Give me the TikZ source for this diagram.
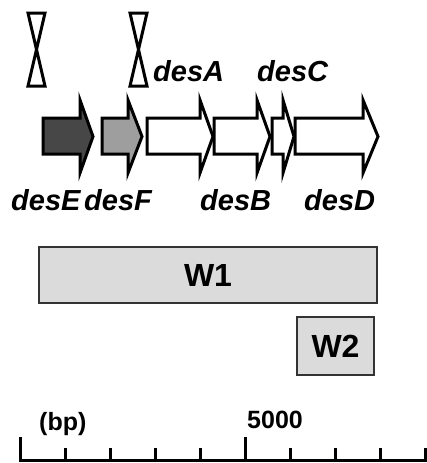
\documentclass[tikz,border=0pt]{standalone}
\usepackage{fontspec}
\setmainfont{Liberation Sans}
\newcommand\genearrow[5]{\draw[gene,fill=#4] (#1,118) -- (#2,118) -- (#2,100) -- (#3,136.5) -- (#2,173) -- (#2,154) -- (#1,154) -- cycle; \coordinate (#5) at (#1,136.5);}
\newcommand\insmark[2]{\draw[ins] (#1-8.5,13) -- (#1+8.5,13) -- (#1,49.5) -- (#1+8.5,86) -- (#1-8.5,86) -- (#1,49.5) -- cycle; \coordinate (#2) at (#1,49.5);}
\begin{document}
\begin{tikzpicture}[x=1pt,y=-1pt,line join=miter,
  gene/.style={draw=black,line width=3pt},
  ins/.style={draw=black,line width=3pt,fill=white},
  glabel/.style={font=\fontsize{29}{31}\selectfont\bfseries\itshape,anchor=base west,inner sep=0pt},
  wbox/.style={draw=black!80,line width=1.5pt,fill=black!14,font=\fontsize{32}{34}\selectfont\bfseries,inner sep=0pt},
  scaletxt/.style={font=\fontsize{25}{27}\selectfont\bfseries,anchor=base west,inner sep=0pt},
  scaleline/.style={draw=black,line width=3pt}]
\useasboundingbox (0,0) rectangle (426,463);
\fill[white] (0,0) rectangle (426,463);
% insertion markers
\insmark{36.5}{i1}
\insmark{138.5}{i2}
% gene arrows
\genearrow{43}{80}{93}{black!72}{gE}
\genearrow{102}{128}{142}{black!38}{gF}
\genearrow{147}{200}{213}{white}{gA}
\genearrow{214}{257}{270}{white}{gB}
\genearrow{272}{283}{294}{white}{gC}
\genearrow{295}{363}{378}{white}{gD}
% labels
\node[glabel] (lA) at (153,81) {desA};
\node[glabel] (lC) at (257,81) {desC};
\node[glabel] (lE) at (11,210) {desE};
\node[glabel] (lF) at (84,210) {desF};
\node[glabel] (lB) at (200,210) {desB};
\node[glabel] (lD) at (304,210) {desD};
% fragments
\node[wbox,minimum width=338pt,minimum height=56pt] (W1) at (208,275) {W1};
\node[wbox,minimum width=77pt,minimum height=58pt] (W2) at (335.5,346) {W2};
% scale bar
\coordinate (s0) at (20,460);
\coordinate (s1) at (426,460);
\draw[scaleline] (s0) -- (s1);
\draw[scaleline] (20,461.5) -- (20,437);
\draw[scaleline] (245,461.5) -- (245,437);
\foreach \k in {1,2,3,4,6,7,8,9}{
  \draw[scaleline] (20+45*\k,461.5) -- (20+45*\k,448);
}
\node[scaletxt] (bp) at (39,430) {(bp)};
\node[scaletxt] (k5) at (247,428) {5000};
\end{tikzpicture}
\end{document}
